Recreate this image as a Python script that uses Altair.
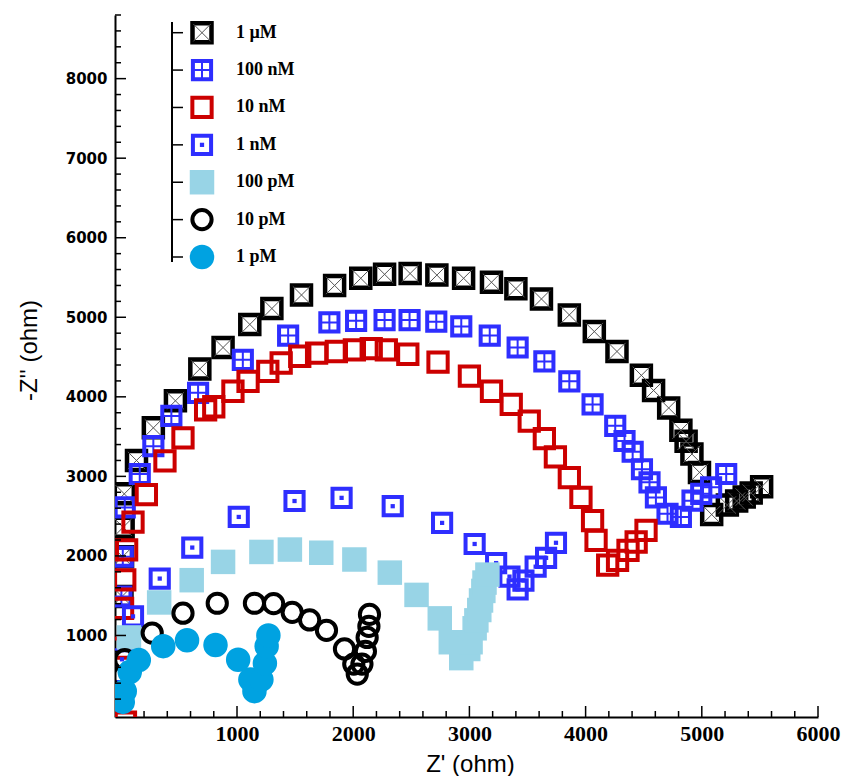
import altair as alt
import pandas as pd

labels = ["1 µM", "100 nM", "10 nM", "1 nM", "100 pM", "10 pM", "1 pM"]

x_1uM = [10, 15, 20, 30, 135, 280, 470, 680, 880, 1110, 1300, 1555, 1840, 2065, 2270, 2490, 2720, 2950,
         3190, 3400, 3620, 3860, 4075, 4270, 4480, 4585, 4715, 4820, 4865, 4915, 4980, 5085, 5220, 5300,
         5365, 5425, 5515]
y_1uM = [1490, 1990, 2360, 2780, 3200, 3610, 3950, 4350, 4620, 4910, 5110, 5280, 5400, 5490, 5540, 5550,
         5530, 5490, 5440, 5360, 5230, 5030, 4820, 4570, 4270, 4080, 3860, 3580, 3440, 3280, 3050, 2520,
         2640, 2690, 2740, 2790, 2870]

x_100nM = [5, 17, 34, 163, 280, 435, 665, 1050, 1440, 1795, 2025, 2270, 2485, 2715, 2930, 3175, 3415, 3645,
           3860, 4060, 4255, 4335, 4405, 4485, 4550, 4605, 4705, 4820, 4920, 4995, 5080, 5210]
y_100nM = [1490, 1990, 2610, 3030, 3380, 3760, 4050, 4465, 4770, 4935, 4955, 4965, 4965, 4945, 4885, 4770,
           4620, 4445, 4195, 3905, 3635, 3445, 3310, 3090, 2925, 2735, 2530, 2490, 2695, 2780, 2862, 3030]

x_10nM = [40, 0, 15, 34, 50, 105, 220, 380, 535, 730, 800, 965, 1095, 1265, 1380, 1540, 1685, 1855, 2010,
          2155, 2285, 2470, 2730, 3000, 3190, 3360, 3515, 3645, 3740, 3860, 3960, 4060, 4090, 4190, 4275,
          4365, 4435, 4520]
y_10nM = [-90, 840, 1340, 1700, 2075, 2425, 2770, 3195, 3485, 3835, 3875, 4070, 4195, 4320, 4425, 4510,
          4550, 4570, 4590, 4605, 4590, 4535, 4435, 4260, 4070, 3905, 3695, 3475, 3245, 2985, 2735, 2445,
          2195, 1885, 1945, 2070, 2175, 2320]

x_1nM = [10, 10, 105, 335, 615, 1015, 1495, 1900, 2340, 2765, 3045, 3230, 3345, 3415, 3465, 3570, 3660, 3745]
y_1nM = [300, 700, 1240, 1715, 2105, 2490, 2690, 2730, 2625, 2415, 2150, 1910, 1740, 1580, 1690, 1865, 1975,
         2165]

x_100pM = [70, 330, 610, 880, 1210, 1455, 1725, 2010, 2315, 2545, 2745, 2840, 2930, 2990, 3010, 3045, 3060,
           3085, 3100, 3120, 3130, 3155]
y_100pM = [975, 1415, 1695, 1925, 2050, 2080, 2040, 1955, 1790, 1510, 1215, 915, 715, 830, 915, 1090, 1190,
           1320, 1440, 1560, 1665, 1765]

x_10pM = [5, 17, 34, 270, 535, 830, 1150, 1315, 1475, 1625, 1770, 1925, 2005, 2035, 2075, 2105, 2120, 2135,
          2140]
y_10pM = [240, 490, 695, 1030, 1280, 1405, 1405, 1400, 1290, 1195, 1065, 830, 640, 515, 640, 800, 975, 1115,
          1265]

x_1pM = [17, 34, 77, 155, 365, 570, 815, 1010, 1115, 1150, 1210, 1240, 1255, 1270]
y_1pM = [165, 300, 540, 690, 865, 940, 880, 695, 445, 300, 445, 650, 865, 1000]

x_major = [1000, 2000, 3000, 4000, 5000, 6000]
x_minor = [v for v in range(200, 6000, 200) if v % 1000]
y_major = [1000, 2000, 3000, 4000, 5000, 6000, 7000, 8000]
y_minor = [v for v in range(200, 8801, 200) if v % 1000]

W, H = 703, 702
BLUE = "#2e2eff"
RED = "#cc0000"
LBLUE = "#98d4e6"
CYAN = "#00a2e1"

xscale = alt.Scale(domain=[-50, 6000], nice=False, zero=False)
yscale = alt.Scale(domain=[-25, 8800], nice=False, zero=False)
legscale = alt.Scale(type="point", domain=labels, range=[17.7, 242], padding=0)

XPATH = "M-1,-1L1,1M-1,1L1,-1"
PLUS = "M0,-1L0,1M-1,0L1,0"

x_axis = alt.Axis(values=x_major, format="d", title="Z' (ohm)")
y_axis = alt.Axis(values=y_major, format="d", title="-Z'' (ohm)")


def sym(base, shape, size, color, filled, sw, clip):
    kw = dict(shape=shape, size=size, color=color, filled=filled, opacity=1)
    kw["strokeWidth"] = 0 if filled else sw
    if clip:
        kw["clip"] = True
    return base.mark_point(**kw)


def series(name, base, enc, clip):
    out = []
    if name == "1 µM":
        out.append(sym(base, "square", 361, "black", False, 4.5, clip).encode(**enc))
        out.append(sym(base, XPATH, 300, "#555555", False, 1, clip).encode(**enc))
    elif name == "100 nM":
        out.append(sym(base, "square", 330, BLUE, False, 4, clip).encode(**enc))
        out.append(sym(base, PLUS, 330, BLUE, False, 2, clip).encode(**enc))
    elif name == "10 nM":
        out.append(sym(base, "square", 372, RED, False, 4, clip).encode(**enc))
    elif name == "1 nM":
        out.append(sym(base, "square", 330, BLUE, False, 4, clip).encode(**enc))
        out.append(sym(base, "square", 18, BLUE, True, 0, clip).encode(**enc))
    elif name == "100 pM":
        out.append(sym(base, "square", 600, LBLUE, True, 0, clip).encode(**enc))
    elif name == "10 pM":
        out.append(sym(base, "circle", 370, "black", False, 4, clip).encode(**enc))
    elif name == "1 pM":
        out.append(sym(base, "circle", 600, CYAN, True, 0, clip).encode(**enc))
    return out


series_data = {
    "1 µM": (x_1uM, y_1uM),
    "100 nM": (x_100nM, y_100nM),
    "10 nM": (x_10nM, y_10nM),
    "1 nM": (x_1nM, y_1nM),
    "100 pM": (x_100pM, y_100pM),
    "10 pM": (x_10pM, y_10pM),
    "1 pM": (x_1pM, y_1pM),
}

XQ = alt.X("x:Q", scale=xscale, axis=x_axis)
YQ = alt.Y("y:Q", scale=yscale, axis=y_axis)

main_layers = []
for name in labels:
    xs, ys = series_data[name]
    base = alt.Chart(pd.DataFrame({"x": xs, "y": ys}))
    main_layers.extend(series(name, base, dict(x=XQ, y=YQ), True))


def yticks(vals, length):
    return alt.Chart(pd.DataFrame({"y": vals})).mark_rule(color="black", strokeWidth=1.5).encode(
        y=YQ, x=alt.value(0), x2=alt.value(length))


def xticks(vals, length):
    return alt.Chart(pd.DataFrame({"x": vals})).mark_rule(color="black", strokeWidth=1.5).encode(
        x=XQ, y=alt.value(H), y2=alt.value(H - length))


main_layers += [yticks(y_major, 11), yticks(y_minor, 6), xticks(x_major, 11), xticks(x_minor, 6)]

# legend drawn as its own layer
leg_layers = []
legdf = pd.DataFrame({"label": labels})
LY = alt.Y("label:N", scale=legscale, axis=None)
leg_layers.append(alt.Chart(legdf).mark_rule(color="black", strokeWidth=1.5).encode(
    x=alt.value(57), y=alt.value(7), y2=alt.value(247)))
leg_layers.append(alt.Chart(legdf).mark_rule(color="black", strokeWidth=1.5).encode(
    x=alt.value(57), x2=alt.value(68), y=LY))
for name in labels:
    base = alt.Chart(pd.DataFrame({"label": [name]}))
    leg_layers.extend(series(name, base, dict(x=alt.value(87), y=LY), False))
leg_layers.append(alt.Chart(legdf).mark_text(align="left", baseline="middle", font="Liberation Serif",
                                             fontWeight="bold", fontSize=18, color="black").encode(
    x=alt.value(121), y=LY, text="label:N"))

chart = alt.layer(alt.layer(*main_layers), alt.layer(*leg_layers)).resolve_scale(
    x="independent", y="independent").properties(
    width=W, height=H,
    autosize=alt.AutoSizeParams(type="none"),
    padding={"left": 115, "top": 15, "right": 35, "bottom": 59},
    background="white",
).configure_view(stroke=None).configure_axis(
    ticks=False, grid=False, domainColor="black", domainWidth=2, labelColor="black",
    labelFlush=False, labelOverlap=False, titleColor="black", titleFont="Liberation Sans",
    titleFontSize=24, titleFontWeight="normal",
).configure_axisX(
    labelFont="Liberation Sans Narrow", labelFontSize=22, labelFontWeight="bold", labelPadding=6,
    titleX=355, titleY=47, titleBaseline="middle",
).configure_axisY(
    labelFont="DejaVu Sans", labelFontSize=15, labelFontWeight="bold", labelPadding=8,
    titleX=-86, titleY=335, titleAngle=270, titleBaseline="middle", titleAlign="center",
)

chart.save("out.html", embed_options={"renderer": "svg", "actions": False})
